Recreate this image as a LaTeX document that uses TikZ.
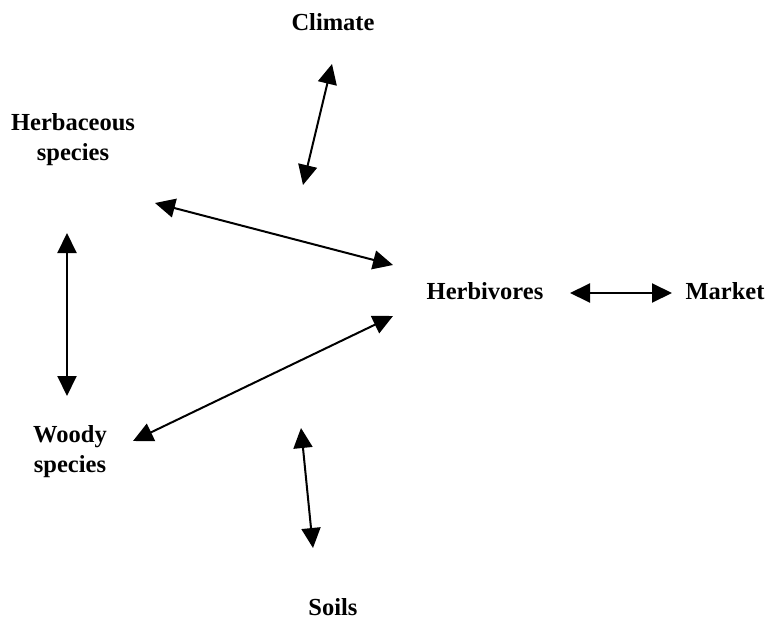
\documentclass[tikz,border=0pt]{standalone}
\usepackage{fontspec}
\setmainfont{Liberation Serif}
\usetikzlibrary{arrows.meta}
\begin{document}
\begin{tikzpicture}[x=1pt,y=-1pt,
  lbl/.style={font=\fontsize{24.5}{30}\selectfont\bfseries, align=center, inner sep=0pt},
  link/.style={line width=2pt, {Triangle[length=20pt,width=19pt]}-{Triangle[length=20pt,width=19pt]}}]
  \useasboundingbox (0,0) rectangle (768,623);
  % labels
  \node[lbl] (climate) at (333,22) {Climate};
  \node[lbl] (herb) at (73,140) {Herbaceous\\species};
  \node[lbl] (woody) at (70,452) {Woody\\species};
  \node[lbl] (herbiv) at (485,291) {Herbivores};
  \node[lbl] (market) at (725,291) {Market};
  \node[lbl] (soils) at (333,607) {Soils};
  % arrow end points
  \coordinate (c1) at (332,64);
  \coordinate (c2) at (303,185);
  \coordinate (h1) at (155,203);
  \coordinate (h2) at (393,265);
  \coordinate (v1) at (67,233);
  \coordinate (v2) at (67,396);
  \coordinate (w1) at (133,441);
  \coordinate (w2) at (393,316);
  \coordinate (m1) at (570,293);
  \coordinate (m2) at (672,293);
  \coordinate (s1) at (301,428);
  \coordinate (s2) at (313,548);
  % double-headed links
  \draw[link] (c1) -- (c2);
  \draw[link] (h1) -- (h2);
  \draw[link] (v1) -- (v2);
  \draw[link] (w1) -- (w2);
  \draw[link] (m1) -- (m2);
  \draw[link] (s1) -- (s2);
\end{tikzpicture}
\end{document}
